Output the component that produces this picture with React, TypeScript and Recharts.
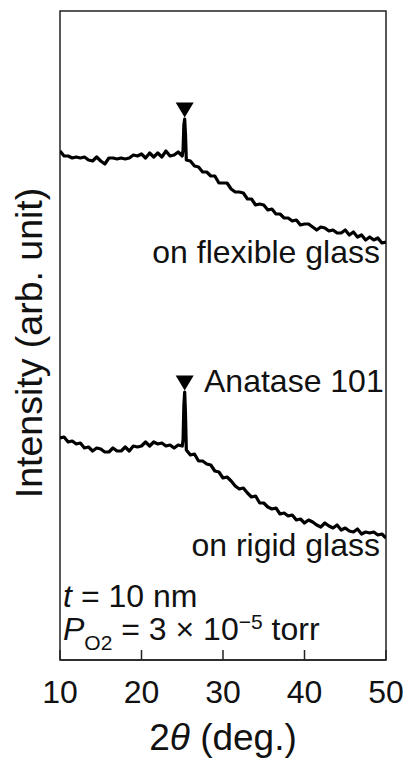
import { ComposedChart, Line, Scatter, XAxis, YAxis, ReferenceArea } from 'recharts';

// 2θ positions (deg.)
const twoTheta = [
  10, 10.5, 11, 11.5, 12, 12.5, 13, 13.5, 14, 14.5, 15, 15.5, 16, 16.5, 17, 17.5, 18, 18.5, 19, 19.5,
  20, 20.5, 21, 21.5, 22, 22.5, 23, 23.5, 24, 24.5, 25, 25.1, 25.2, 25.3, 25.4, 25.5,
  26, 26.5, 27, 27.5, 28, 28.5, 29, 29.5, 30, 30.5, 31, 31.5, 32, 32.5, 33, 33.5, 34, 34.5,
  35, 35.5, 36, 36.5, 37, 37.5, 38, 38.5, 39, 39.5, 40, 40.5, 41, 41.5, 42, 42.5, 43, 43.5,
  44, 44.5, 45, 45.5, 46, 46.5, 47, 47.5, 48, 48.5, 49, 49.5, 50,
];

// intensity (arb. unit), offset traces
const flexibleGlass = [
  509, 504, 504, 502, 503, 502, 503, 500, 499, 503, 499, 496, 502, 502, 501, 502, 501, 502, 505, 504,
  506, 502, 507, 503, 507, 503, 509, 504, 505, 508, 504, 510, 535, 541, 525, 500,
  499, 494, 493, 488, 488, 484, 484, 477, 477, 477, 471, 468, 468, 467, 461, 461, 455, 456,
  455, 450, 451, 446, 446, 442, 442, 439, 440, 435, 436, 436, 433, 430, 433, 432, 429, 430,
  427, 427, 430, 425, 428, 423, 425, 420, 423, 420, 422, 417, 418,
];

const rigidGlass = [
  222, 223, 218, 219, 216, 217, 212, 213, 209, 212, 211, 208, 208, 212, 209, 209, 213, 209, 214, 213,
  214, 218, 214, 218, 216, 217, 214, 215, 212, 215, 214, 220, 255, 268, 245, 210,
  205, 206, 199, 199, 196, 195, 189, 188, 182, 183, 179, 174, 171, 172, 167, 163, 164, 157,
  157, 153, 151, 152, 146, 147, 144, 145, 140, 141, 137, 140, 138, 135, 133, 137, 134, 132,
  135, 130, 132, 129, 128, 131, 126, 128, 127, 128, 125, 126, 122,
];

// ▼ marks above the anatase 101 peak
const peakX = [25.3, 25.3];
const peakMarkY = [550, 277];

const xTicks = [10, 20, 30, 40, 50];

const FONT = '"Liberation Sans", Arial, sans-serif';
const INK = '#222';

const data = twoTheta.map((x, i) => ({ x, flexible: flexibleGlass[i], rigid: rigidGlass[i] }));
const marks = peakX.map((x, i) => ({ x, mark: peakMarkY[i] }));

const DownTriangle = (props: any) => {
  const { cx, cy } = props;
  return (
    <polygon
      points={`${cx - 9},${cy - 7.5} ${cx + 9},${cy - 7.5} ${cx},${cy + 7.5}`}
      fill="#000"
    />
  );
};

export default function App() {
  return (
    <div style={{ position: 'absolute', left: 0, top: 0, width: 407, height: 764, background: '#fff' }}>
      <ComposedChart
        width={407}
        height={764}
        data={data}
        margin={{ top: 11, right: 21, left: 60, bottom: 44 }}
      >
        <XAxis
          dataKey="x"
          type="number"
          domain={[10, 50]}
          ticks={xTicks}
          allowDataOverflow
          height={60}
          tickSize={-10}
          tickMargin={30}
          stroke={INK}
          strokeWidth={1.5}
          tick={{ fontSize: 32, fill: '#111', fontFamily: FONT }}
        />
        <YAxis hide domain={[0, 649]} allowDataOverflow />
        <ReferenceArea x1={10} x2={50} y1={0} y2={649} fill="none" stroke={INK} strokeWidth={1.5} />
        <Line
          dataKey="flexible"
          type="linear"
          stroke="#000"
          strokeWidth={3.2}
          strokeLinejoin="round"
          dot={false}
          isAnimationActive={false}
        />
        <Line
          dataKey="rigid"
          type="linear"
          stroke="#000"
          strokeWidth={3.2}
          strokeLinejoin="round"
          dot={false}
          isAnimationActive={false}
        />
        <Scatter data={marks} dataKey="mark" shape={DownTriangle} isAnimationActive={false} />
      </ComposedChart>

      <svg
        width={407}
        height={764}
        style={{ position: 'absolute', left: 0, top: 0, pointerEvents: 'none' }}
        fontFamily={FONT}
        fill="#111"
      >
        <text transform="translate(42,343) rotate(-90)" textAnchor="middle" fontSize={37.5}>
          Intensity (arb. unit)
        </text>
        <text x={223} y={750} textAnchor="middle" fontSize={37}>
          2<tspan fontStyle="italic">θ</tspan> (deg.)
        </text>
        <text x={380} y={263} textAnchor="end" fontSize={32}>on flexible glass</text>
        <text x={204} y={392} fontSize={32}>Anatase 101</text>
        <text x={380} y={556} textAnchor="end" fontSize={32}>on rigid glass</text>
        <text x={63} y={607} fontSize={32}>
          <tspan fontStyle="italic">t</tspan>
          <tspan dx={9}>= 10 nm</tspan>
        </text>
        <text x={63} y={640} fontSize={32}>
          <tspan fontStyle="italic">P</tspan>
          <tspan fontSize={21} dy={10}>O2</tspan>
          <tspan dy={-10}> = 3 × 10</tspan>
          <tspan fontSize={21} dy={-11}>−5</tspan>
          <tspan dy={11}> torr</tspan>
        </text>
      </svg>
    </div>
  );
}
